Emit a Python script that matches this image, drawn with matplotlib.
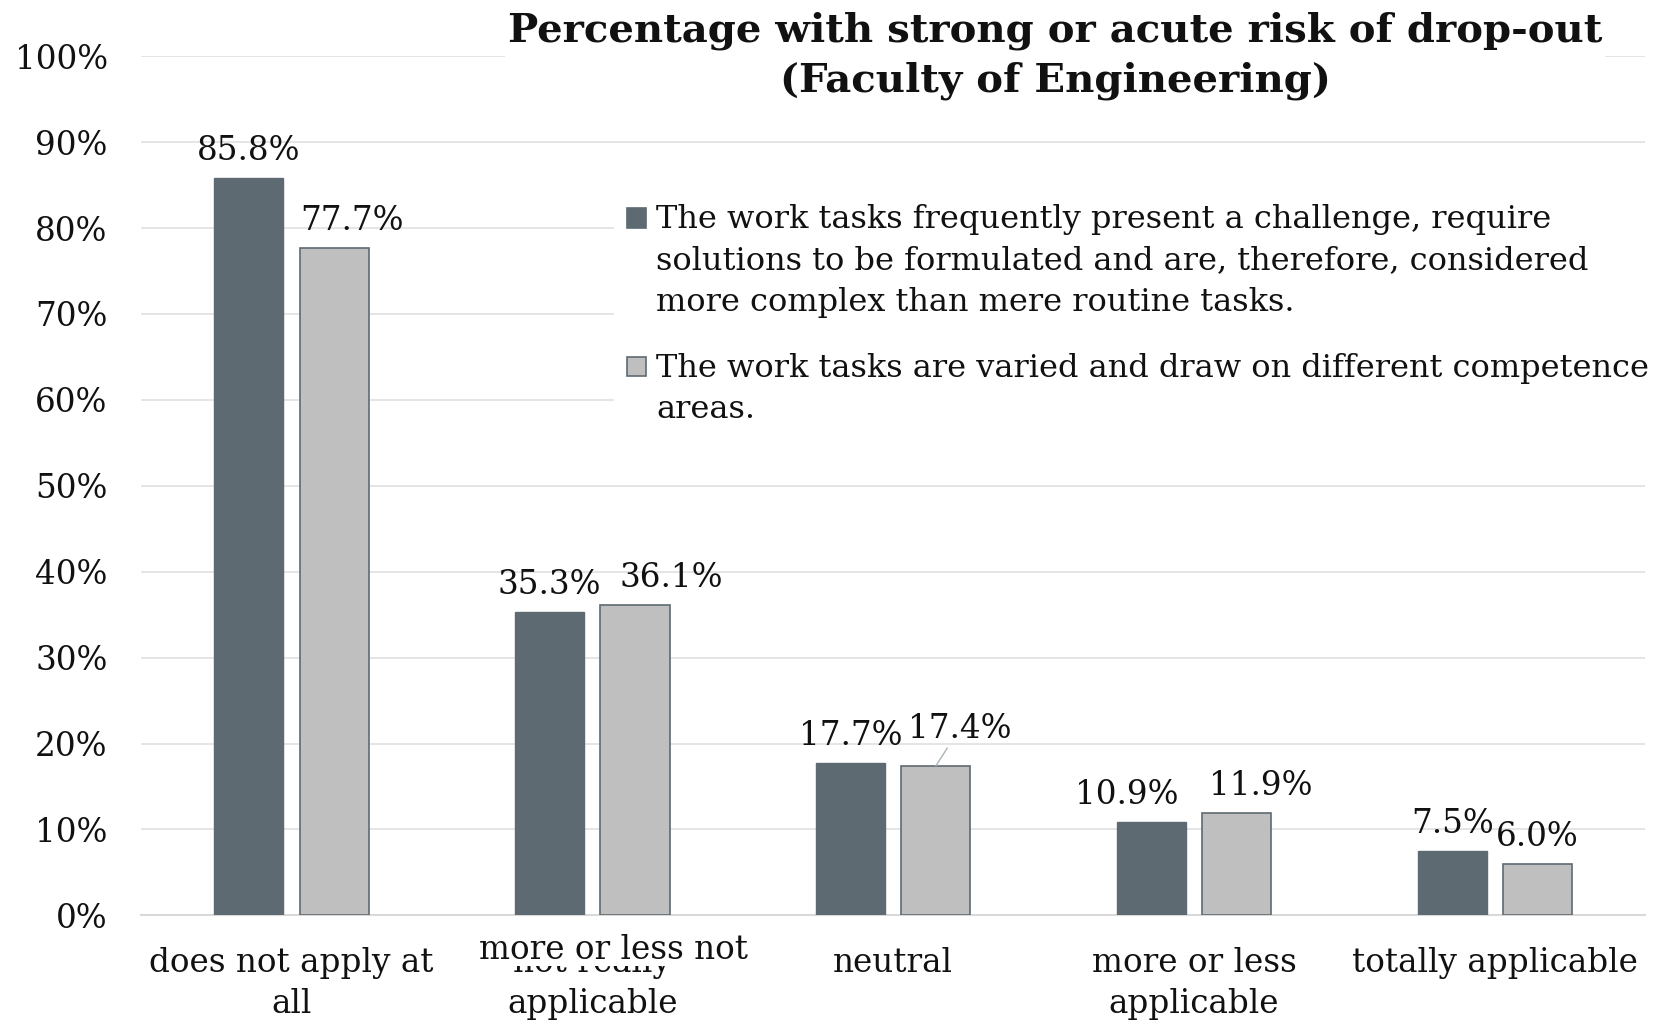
import numpy as np
import matplotlib.pyplot as plt
from matplotlib.patches import Rectangle

categories = ["does not apply at\nall", "not really\napplicable", "neutral",
              "more or less\napplicable", "totally applicable"]
challenge = [85.8, 35.3, 17.7, 10.9, 7.5]
varied = [77.7, 36.1, 17.4, 11.9, 6.0]
series_names = [
    "The work tasks frequently present a challenge, require\n"
    "solutions to be formulated and are, therefore, considered\n"
    "more complex than mere routine tasks.",
    "The work tasks are varied and draw on different competence\nareas.",
]
title = "Percentage with strong or acute risk of drop-out\n(Faculty of Engineering)"

dark = "#5E6A72"
light = "#BFBFBF"
fs = 23.5

plt.rcParams["font.family"] = ["DejaVu Serif"]

fig = plt.figure(figsize=(16.67, 10.23), dpi=100)
ax = fig.add_axes([0.0846, 0.1052, 0.9024, 0.8398])

x = np.arange(len(categories))
w = 0.23
off = 0.142
ax.bar(x - off, challenge, w, color=dark, edgecolor=dark, linewidth=1, zorder=3)
ax.bar(x + off, varied, w, color=light, edgecolor=dark, linewidth=1.2, zorder=3)

# label nudges (as in the original, some labels are shifted sideways)
dx1 = [0, 0, 0, -0.08, 0]
dx2 = [0.06, 0.12, 0.078, 0.08, 0]
for i in range(len(x)):
    ax.text(x[i] - off + dx1[i], challenge[i] + 1.3, f"{challenge[i]:.1f}%", ha="center",
            va="bottom", fontsize=fs, color="#111111")
    if i == 2:
        ax.annotate(f"{varied[i]:.1f}%", xy=(x[i] + off, varied[i]),
                    xytext=(x[i] + off + dx2[i], varied[i] + 2.4), ha="center", va="bottom",
                    fontsize=fs, color="#111111",
                    arrowprops=dict(arrowstyle="-", color="#A9B3B8", lw=1, shrinkA=0, shrinkB=0))
    else:
        ax.text(x[i] + off + dx2[i], varied[i] + 1.3, f"{varied[i]:.1f}%", ha="center",
                va="bottom", fontsize=fs, color="#111111")

ax.set_xlim(-0.5, 4.5)
ax.set_ylim(0, 100)
ax.set_yticks(np.arange(0, 101, 10))
ax.set_yticklabels([f"{v}%" for v in range(0, 101, 10)], fontsize=fs)
ax.set_xticks(x)
ax.set_xticklabels(categories, fontsize=fs, linespacing=1.35)
ax.tick_params(axis="both", length=0, colors="#111111")
ax.tick_params(axis="y", pad=24)
ax.tick_params(axis="x", pad=23)
ax.grid(axis="y", color="#E3E3E3", linewidth=1.3, zorder=0)
for s in ["top", "right", "left"]:
    ax.spines[s].set_visible(False)
ax.spines["bottom"].set_color("#D9D9D9")
ax.spines["bottom"].set_linewidth(1.5)

# overlapping label box on the second category
ax.text(1.072, -4.0, "more or less not", ha="center", va="center", fontsize=fs, color="#111111",
        bbox=dict(facecolor="white", edgecolor="none", pad=0), clip_on=False, zorder=5)

# legend drawn by hand so the markers sit on the first line of each entry
bg = Rectangle((578 / 1568, 1 - 412 / 962), 1 - 578 / 1568, 232 / 962, transform=fig.transFigure,
               facecolor="white", edgecolor="none", zorder=4)
fig.add_artist(bg)
entries = [(205, series_names[0], dark), (345, series_names[1], light)]
for yc, name, col in entries:
    sq = Rectangle((590 / 1568, 1 - (yc + 9) / 962), 18 / 1568, 18 / 962,
                   transform=fig.transFigure, facecolor=col, edgecolor=dark, linewidth=1.2,
                   zorder=5)
    fig.add_artist(sq)
    fig.text(617 / 1568, 1 - (yc - 13) / 962, name, ha="left", va="top", fontsize=23,
             color="#111111", linespacing=1.43, zorder=6)

fig.text(0.633, 0.989, title, ha="center", va="top", fontsize=29, fontweight="bold",
         color="#111111", linespacing=1.38,
         bbox=dict(facecolor="white", edgecolor="none", pad=2))

fig.savefig("out.png", dpi=100, facecolor="white")
